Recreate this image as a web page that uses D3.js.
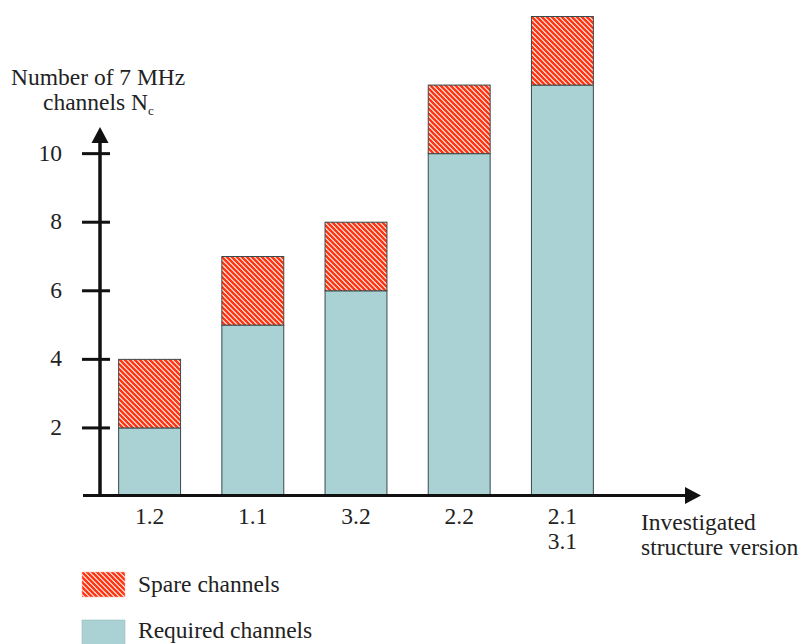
<!DOCTYPE html>
<html><head><meta charset="utf-8">
<script src="https://cdn.jsdelivr.net/npm/d3@7"></script>
<style>body{margin:0;background:#fff}svg{display:block}text{font-family:"Liberation Serif","Times New Roman",serif;fill:#222}</style>
</head><body>
<script>
const categories = ["1.2","1.1","3.2","2.2","2.1\n3.1"];
const required = [2,5,6,10,12];
const spare = [2,2,2,2,2];
const yTicks = [2,4,6,8,10];

const W=803,H=644, FS=23.5;
const svg=d3.select("body").append("svg").attr("width",W).attr("height",H);
const defs=svg.append("defs");
const pat=defs.append("pattern").attr("id","hatch").attr("patternUnits","userSpaceOnUse")
  .attr("width",5).attr("height",5);
pat.append("rect").attr("width",5).attr("height",5).attr("fill","#fff");
pat.append("path").attr("d","M-1,-1L6,6M-1,4L1,6M4,-1L6,1").attr("stroke","#ff3512").attr("stroke-width",2.6);

const x=d3.scaleBand().domain(categories).range([98,614]).paddingInner(0.4).paddingOuter(0.2);
const y=d3.scaleLinear().domain([0,14]).range([496.5,16.5]);

const g=svg.append("g");
categories.forEach((c,i)=>{
  g.append("rect").attr("x",x(c)).attr("width",x.bandwidth())
   .attr("y",y(required[i])).attr("height",y(0)-y(required[i]))
   .attr("fill","#aad1d3").attr("stroke","#3a4a4c").attr("stroke-width",1);
  g.append("rect").attr("x",x(c)).attr("width",x.bandwidth())
   .attr("y",y(required[i]+spare[i])).attr("height",y(required[i])-y(required[i]+spare[i]))
   .attr("fill","url(#hatch)").attr("stroke","#3a4a4c").attr("stroke-width",1);
});

// axes
const ax=100, ay=495.5;
svg.append("line").attr("x1",ax).attr("x2",ax).attr("y1",ay+1).attr("y2",140).attr("stroke","#111").attr("stroke-width",3.5);
svg.append("path").attr("d",`M${ax},127L${ax-8.5},143L${ax+8.5},143Z`).attr("fill","#111");
svg.append("line").attr("x1",83).attr("x2",688).attr("y1",ay).attr("y2",ay).attr("stroke","#111").attr("stroke-width",3);
svg.append("path").attr("d",`M701,${ay}L685,${ay-8.5}L685,${ay+8.5}Z`).attr("fill","#111");

yTicks.forEach(t=>{
  svg.append("line").attr("x1",82).attr("x2",110).attr("y1",y(t)).attr("y2",y(t)).attr("stroke","#111").attr("stroke-width",3);
  svg.append("text").attr("x",62).attr("y",y(t)+7).attr("text-anchor","end").attr("font-size",FS).text(t);
});

categories.forEach(c=>{
  const lines=c.split("\n");
  lines.forEach((l,j)=>{
    svg.append("text").attr("x",x(c)+x.bandwidth()/2).attr("y",524+j*25).attr("text-anchor","middle").attr("font-size",FS).text(l);
  });
});

svg.append("text").attr("x",641).attr("y",530).attr("font-size",FS).text("Investigated");
svg.append("text").attr("x",641).attr("y",555).attr("font-size",FS).text("structure version");

svg.append("text").attr("x",11).attr("y",85).attr("font-size",FS).text("Number of 7 MHz");
const t2=svg.append("text").attr("x",43).attr("y",110).attr("font-size",FS);
t2.append("tspan").text("channels N");
t2.append("tspan").attr("font-size",13).attr("dy",5).text("c");

// legend
svg.append("rect").attr("x",82).attr("y",572).attr("width",43).attr("height",25).attr("fill","url(#hatch)").attr("stroke","#ffb0a0").attr("stroke-width",0.5);
svg.append("text").attr("x",138).attr("y",592).attr("font-size",FS).text("Spare channels");
svg.append("rect").attr("x",82).attr("y",620).attr("width",43).attr("height",26).attr("fill","#aad1d3").attr("stroke","#8ab3b5").attr("stroke-width",0.5);
svg.append("text").attr("x",138).attr("y",638).attr("font-size",FS).text("Required channels");
</script>
</body></html>
